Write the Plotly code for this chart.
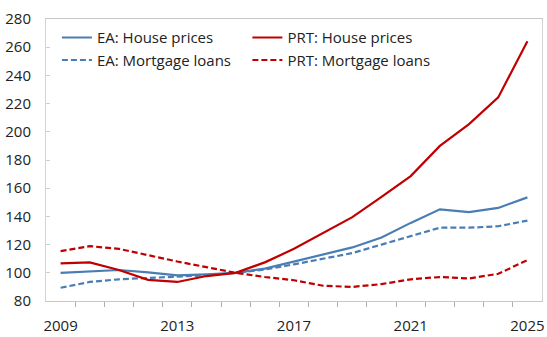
import plotly.graph_objects as go

years = list(range(2009, 2026))

ea_house = [100, 100.8, 102, 100.3, 98.2, 98.9, 100, 103, 108, 112.5, 118, 125, 135.4, 145, 143, 146, 153.5]
ea_mortgage = [89.4, 93.5, 95.4, 96.3, 97.2, 98.2, 100, 102.3, 106, 110, 114, 120, 126, 132, 132, 133, 137]
prt_house = [106.7, 107.4, 102, 95, 93.5, 97.7, 100, 107.4, 117, 128, 139.5, 153.8, 168.6, 190, 205.5, 224.4, 264.3]
prt_mortgage = [115.4, 118.9, 117, 112.4, 108, 104, 100, 97, 94.7, 90.8, 90, 92, 95.4, 97, 96, 99.3, 109]

x_labels = [2009, 2013, 2017, 2021, 2025]
y_ticks = list(range(80, 281, 20))

BLUE = "#4a7db3"
RED = "#c00000"
FONT = "Open Sans"
DASH = "6px,3px"

fig = go.Figure()
fig.add_trace(go.Scatter(x=years, y=ea_house, mode="lines", name="EA: House prices",
                         line=dict(color=BLUE, width=2.2), legend="legend"))
fig.add_trace(go.Scatter(x=years, y=ea_mortgage, mode="lines", name="EA: Mortgage loans",
                         line=dict(color=BLUE, width=2.2, dash=DASH), legend="legend"))
fig.add_trace(go.Scatter(x=years, y=prt_house, mode="lines", name="PRT: House prices",
                         line=dict(color=RED, width=2.2), legend="legend2"))
fig.add_trace(go.Scatter(x=years, y=prt_mortgage, mode="lines", name="PRT: Mortgage loans",
                         line=dict(color=RED, width=2.2, dash=DASH), legend="legend2"))

legend_style = dict(
    yanchor="top", xanchor="left", y=0.992,
    bgcolor="rgba(0,0,0,0)", font=dict(family=FONT, size=15, color="#222222"),
    itemwidth=30, tracegroupgap=0,
)

fig.update_layout(
    width=547, height=337,
    margin=dict(l=46, r=2, t=19, b=28),
    paper_bgcolor="white", plot_bgcolor="white",
    font=dict(family=FONT, size=15, color="#222222"),
    showlegend=True,
    legend=dict(x=0.022, **legend_style),
    legend2=dict(x=0.406, **legend_style),
    xaxis=dict(
        range=[years[0] - 0.5, years[-1] + 0.5],
        tickmode="array", tickvals=x_labels, ticktext=[str(v) for v in x_labels],
        ticks="", showgrid=False, zeroline=False,
        showline=True, mirror=True, linecolor="#c8c8c8", linewidth=1,
        ticklabelstandoff=11,
        minor=dict(tickmode="array", tickvals=[y + 0.5 for y in years[:-1]],
                   ticks="outside", ticklen=5, tickcolor="#b0b0b0", showgrid=False),
    ),
    yaxis=dict(
        range=[80, 280], tickmode="array", tickvals=y_ticks,
        ticks="inside", ticklen=4, tickcolor="#cfcfcf", showgrid=False, zeroline=False,
        showline=True, mirror=True, linecolor="#d4d4d4", linewidth=1,
        ticklabelstandoff=11,
    ),
)

fig.write_html("out.html")
